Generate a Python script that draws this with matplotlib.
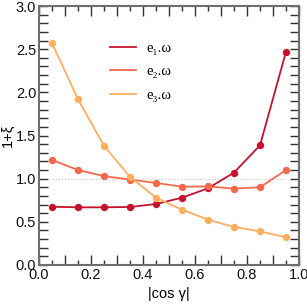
import matplotlib
matplotlib.use("Agg")
import matplotlib.pyplot as plt
from matplotlib.ticker import MultipleLocator, FuncFormatter
from matplotlib.lines import Line2D

x = [0.05, 0.15, 0.25, 0.35, 0.45, 0.55, 0.65, 0.75, 0.85, 0.95]
e1 = [0.675, 0.668, 0.668, 0.672, 0.706, 0.78, 0.888, 1.07, 1.386, 2.47]
e2 = [1.216, 1.10, 1.03, 0.99, 0.95, 0.907, 0.91, 0.885, 0.90, 1.10]
e3 = [2.57, 1.92, 1.38, 1.02, 0.78, 0.64, 0.525, 0.44, 0.39, 0.32]
labels = ["e₁.ω", "e₂.ω", "e₃.ω"]
colors = ["#c4122f", "#f4694c", "#fdae61"]

plt.rcParams['font.family'] = ['Liberation Sans', 'DejaVu Sans']

fig = plt.figure(figsize=(3.07, 3.06), dpi=100)
ax = fig.add_axes([39/307, 1 - 265/306, 260/307, 259/306])

ax.plot([x[0], x[-1]], [1.0, 1.0], linestyle=(0, (1, 1.5)), color="#c8c8c8", lw=0.9, zorder=1)

for ys, c, lab in zip([e1, e2, e3], colors, labels):
    ax.plot(x, ys, color=c, lw=1.3, marker='o', markersize=4.3, zorder=3)

ax.set_xlim(0, 1.0)
ax.set_ylim(0, 3.0)
ax.xaxis.set_major_locator(MultipleLocator(0.1))
ax.xaxis.set_minor_locator(MultipleLocator(0.05))
ax.yaxis.set_major_locator(MultipleLocator(0.5))
ax.yaxis.set_minor_locator(MultipleLocator(0.1))

def xfmt(v, pos):
    k = int(round(v * 10))
    return f"{v:.1f}" if k % 2 == 0 else ""
ax.xaxis.set_major_formatter(FuncFormatter(xfmt))
ax.yaxis.set_major_formatter(FuncFormatter(lambda v, p: f"{v:.1f}"))

for s in ax.spines.values():
    s.set_color("#6e6e6e")
    s.set_linewidth(1.5)
ax.tick_params(which='both', direction='in', top=True, right=True, colors="#333333", labelcolor="#111111", labelsize=10.5, width=1.0)
ax.tick_params(axis='x', which='major', length=7, pad=2)
ax.tick_params(axis='x', which='minor', length=3.5)
ax.tick_params(axis='y', which='major', length=6.5, pad=2)
ax.tick_params(axis='y', which='minor', length=6.5)

ax.set_xlabel("|cos γ|", fontsize=10.5, labelpad=4)
ax.set_ylabel("1+ξ", fontsize=10.5, labelpad=1)

handles = [Line2D([], [], color=c, lw=1.3) for c in colors]
leg = ax.legend(handles, labels, loc='upper left', bbox_to_anchor=(0.273, 0.862), frameon=False,
                borderaxespad=0, borderpad=0,
                prop={'family': ['Liberation Serif', 'DejaVu Serif'], 'size': 10.5},
                handlelength=1.75, handletextpad=0.75, labelspacing=0.7)

fig.savefig("out.png", dpi=100)
